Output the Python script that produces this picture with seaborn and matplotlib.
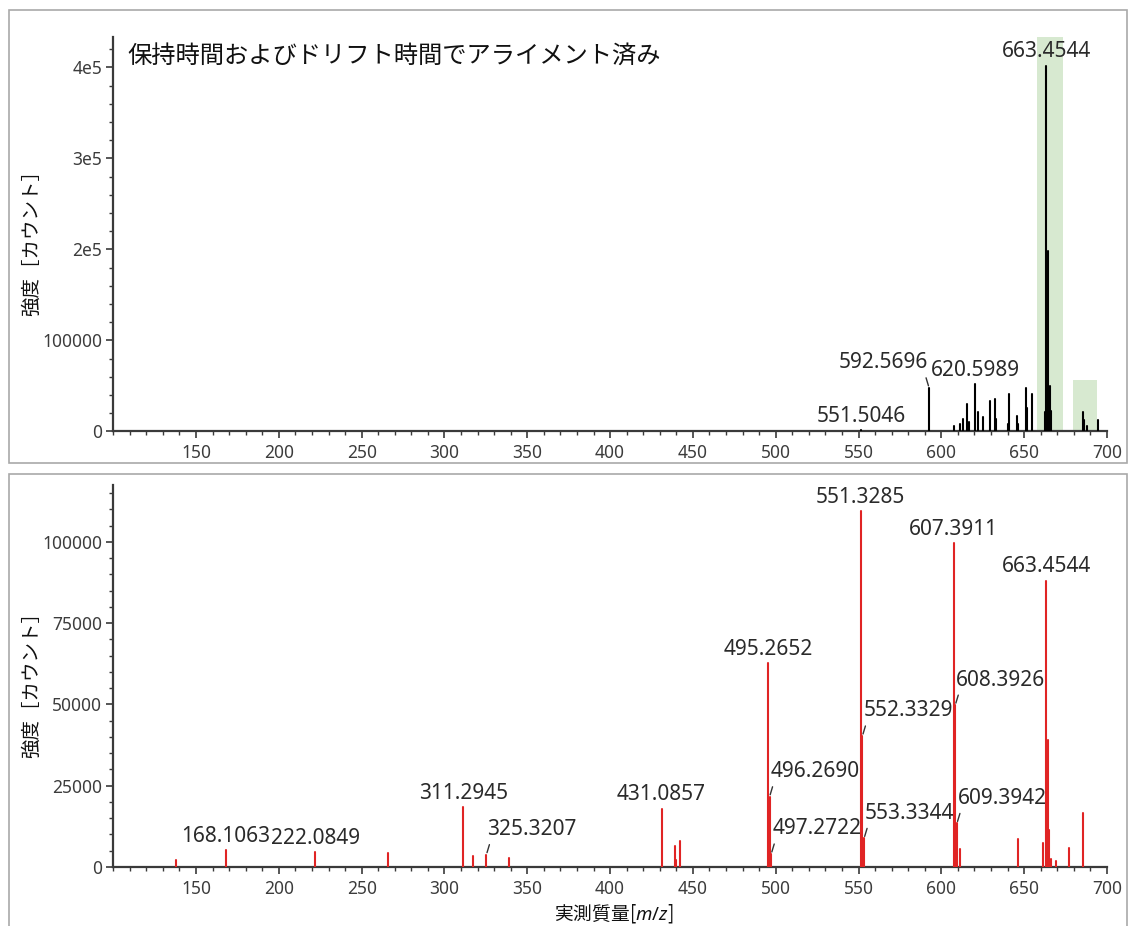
import numpy as np
import pandas as pd
import matplotlib
matplotlib.use("Agg")
import matplotlib.pyplot as plt
from matplotlib.patches import Rectangle
from matplotlib.ticker import MultipleLocator
import seaborn as sns

# ---- data -------------------------------------------------------------
# Aligned spectrum (retention time + drift time alignment)
aligned_mz = [551.5046, 592.5696, 607.6, 611.2, 613.2, 615.6, 616.5, 620.5989,
              622.3, 625.1, 629.6, 632.2, 633.2, 640.0, 640.6, 645.6, 646.4,
              650.9, 651.7, 654.5, 662.5, 663.4544, 664.46, 665.5, 666.0,
              685.3, 686.1, 687.7, 694.7]
aligned_int = [1500, 48000, 5500, 8400, 13500, 30000, 9900, 52000,
               20900, 15800, 34000, 35500, 13500, 8400, 41000, 17200, 8400,
               47600, 25600, 41000, 20900, 402000, 198000, 50000, 23000,
               21600, 12800, 6200, 12500]
aligned_labels = [(551.5046, "c"), (592.5696, "l"), (620.5989, "c"), (663.4544, "c")]
highlight_windows = [(657.9, 673.2, None), (679.6, 694.1, 57000)]

# Fragment spectrum
frag_mz = [137.9, 168.1063, 222.0849, 266.1, 311.2945, 317.4, 325.3207, 339.1,
           431.0857, 439.0, 439.8, 442.0, 495.2652, 496.2690, 497.2722,
           551.3285, 552.3329, 553.3344, 607.3911, 608.3926, 609.3942, 611.2,
           646.4, 661.5, 663.4544, 664.46, 665.2, 666.2, 669.2, 677.0, 685.3]
frag_int = [2150, 5200, 4600, 4200, 18400, 3500, 3800, 2900,
            17900, 6500, 2100, 8000, 62700, 21600, 4000,
            109500, 40300, 8800, 99600, 49800, 13400, 5400,
            8500, 7500, 88000, 39000, 11400, 2500, 1900, 5700, 16500]
frag_labels = [(168.1063, "c"), (222.0849, "c"), (311.2945, "c"), (325.3207, "r"),
               (431.0857, "c"), (495.2652, "c"), (496.2690, "r"), (497.2722, "r"),
               (551.3285, "c"), (552.3329, "r"), (553.3344, "r"),
               (607.3911, "c"), (608.3926, "r"), (609.3942, "r"), (663.4544, "c")]

top_yticks = [0, 100000, 200000, 300000, 400000]
top_yticklabels = ["0", "100000", "2e5", "3e5", "4e5"]
bottom_yticks = [0, 25000, 50000, 75000, 100000]
bottom_yticklabels = ["0", "25000", "50000", "75000", "100000"]
xticks = [150, 200, 250, 300, 350, 400, 450, 500, 550, 600, 650, 700]

title = "保持時間およびドリフト時間でアライメント済み"
ylabel = "強度［カウント］"
xlabel = "実測質量[$\\mathit{m/z}$]"

# ---- style ------------------------------------------------------------
sns.set_theme(style="ticks")
plt.rcParams["font.family"] = ["Noto Sans", "Noto Sans CJK JP", "DejaVu Sans"]
plt.rcParams["mathtext.fontset"] = "custom"
plt.rcParams["mathtext.it"] = "Noto Sans:italic"
plt.rcParams["mathtext.rm"] = "Noto Sans"

SPINE = "#3a3a3a"
TICKLABEL = "#3c3c3c"
LABELTXT = "#2a2a2a"

fig = plt.figure(figsize=(11.28, 9.26), dpi=100)
W, H = 1128, 926


def px_axes(left, top, right, bottom):
    return fig.add_axes([left / W, 1 - bottom / H, (right - left) / W, (bottom - top) / H])


ax_top = px_axes(113.2, 37, 1107, 431.5)
ax_bot = px_axes(113.2, 485, 1107, 867)

# panel frames
for (y0, y1) in [(10, 463), (474, 940)]:
    fig.add_artist(Rectangle((9 / W, 1 - y1 / H), (1127 - 9) / W, (y1 - y0) / H,
                             transform=fig.transFigure, fill=False,
                             ec="#a9a9a9", lw=1.2, zorder=0))


def draw_sticks(ax, mz, inten, color, lw):
    mz = np.asarray(mz, float)
    inten = np.asarray(inten, float)
    df = pd.DataFrame({
        "mz": np.repeat(mz, 2),
        "intensity": np.column_stack([np.zeros_like(inten), inten]).ravel(),
        "peak": np.repeat(np.arange(len(mz)), 2),
    })
    sns.lineplot(data=df, x="mz", y="intensity", units="peak", estimator=None,
                 sort=False, color=color, lw=lw, ax=ax, legend=False, zorder=3)


PX = 0.72  # points per pixel at 100 dpi


def label_peaks(ax, mz, inten, labels, color):
    lookup = dict(zip(mz, inten))
    for m, mode in labels:
        h = lookup[m]
        txt = f"{m:.4f}"
        if mode == "c":
            ax.annotate(txt, xy=(m, h), xytext=(0, 14 * PX), textcoords="offset points",
                        ha="center", va="center", fontsize=15, color=color, zorder=5)
        else:
            sgn = 1 if mode == "r" else -1
            ax.annotate(txt, xy=(m, h), xytext=(sgn * 1 * PX, 25 * PX),
                        textcoords="offset points", ha="left" if sgn > 0 else "right",
                        va="center", fontsize=15, color=color, zorder=5)
            ax.annotate("", xy=(m, h), xytext=(sgn * 3 * PX, 10 * PX),
                        textcoords="offset points",
                        arrowprops=dict(arrowstyle="-", color="#333333", lw=1.0,
                                        shrinkA=0, shrinkB=1.5), zorder=5)


# ---- top panel --------------------------------------------------------
for x0, x1, ytop in highlight_windows:
    if ytop is None:
        ax_top.axvspan(x0, x1, color="#d7e9d0", lw=0, zorder=1)
    else:
        ax_top.fill_between([x0, x1], 0, ytop, color="#d7e9d0", lw=0, zorder=1)

draw_sticks(ax_top, aligned_mz, aligned_int, "black", 1.5)
label_peaks(ax_top, aligned_mz, aligned_int, aligned_labels, LABELTXT)
ax_top.set_ylim(0, 433500)
ax_top.set_yticks(top_yticks)
ax_top.set_yticklabels(top_yticklabels)
ax_top.yaxis.set_minor_locator(MultipleLocator(20000))

# ---- bottom panel -----------------------------------------------------
draw_sticks(ax_bot, frag_mz, frag_int, "#e02424", 1.5)
label_peaks(ax_bot, frag_mz, frag_int, frag_labels, LABELTXT)
ax_bot.set_ylim(0, 117500)
ax_bot.set_yticks(bottom_yticks)
ax_bot.set_yticklabels(bottom_yticklabels)
ax_bot.yaxis.set_minor_locator(MultipleLocator(5000))

for ax in (ax_top, ax_bot):
    ax.set_xlim(100, 700)
    ax.set_xticks(xticks)
    ax.xaxis.set_minor_locator(MultipleLocator(10))
    ax.set_facecolor("none")
    sns.despine(ax=ax)
    for s in ("left", "bottom"):
        ax.spines[s].set_color(SPINE)
        ax.spines[s].set_linewidth(1.6)
    ax.tick_params(which="major", direction="out", length=5, width=1.2,
                   color=SPINE, labelcolor=TICKLABEL, labelsize=12.5, pad=3)
    ax.tick_params(which="minor", direction="out", length=3, width=1.0, color=SPINE)
    ax.tick_params(axis="x", which="major", pad=4)
    ax.set_xlabel("")
    ax.set_ylabel(ylabel, fontsize=14, color="#111111")
    ax.yaxis.set_label_coords(-0.072, 0.49)

# the mathtext part needs a base font that carries the kanji
ax_bot.set_xlabel(xlabel, fontsize=13.5, color="#111111", family="Noto Sans CJK JP")
ax_bot.xaxis.set_label_coords(0.504, -0.092)

fig.text(127 / W, 1 - 57 / H, title, fontsize=17.5, ha="left", va="center",
         color="#111111")

fig.savefig("out.png", dpi=100, facecolor="white")
